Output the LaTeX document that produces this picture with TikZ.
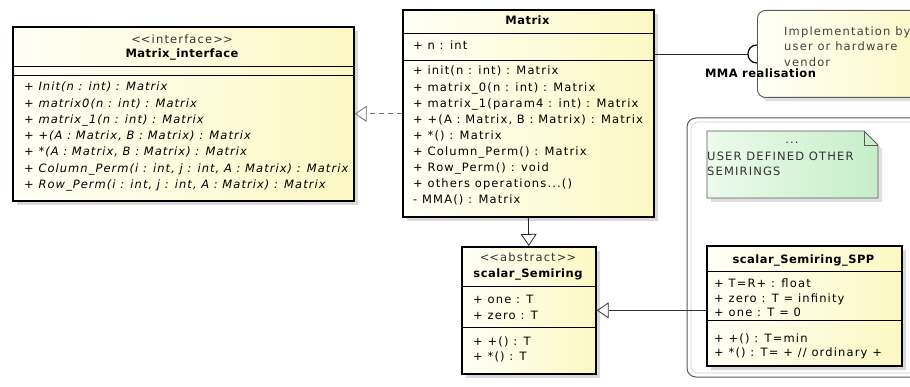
\documentclass[tikz,border=0pt]{standalone}
\usepackage{fontspec}
\setmainfont{DejaVu Sans}[LetterSpace=10,BoldFeatures={LetterSpace=4},ItalicFeatures={LetterSpace=9}]
\usetikzlibrary{shadows,arrows.meta}
\definecolor{ylight}{RGB}{255,255,246}
\definecolor{ydark}{RGB}{252,248,196}
\definecolor{glight}{RGB}{236,250,236}
\definecolor{gdark}{RGB}{198,238,200}
\definecolor{notedraw}{RGB}{90,90,90}
\newcommand{\lt}{<\kern0pt<}
\newcommand{\gt}{>\kern0pt>}
\begin{document}
\begin{tikzpicture}[x=1pt,y=-1pt,
  classbox/.style={draw=black, line width=1.7pt, left color=ylight, right color=ydark,
    inner sep=0pt, anchor=north west,
    drop shadow={shadow xshift=4pt, shadow yshift=-4pt, fill=black!15, opacity=1}},
  notebox/.style={draw=notedraw, line width=0.9pt, rounded corners=8pt, left color=ylight, right color=ydark,
    inner sep=0pt, anchor=north west,
    drop shadow={shadow xshift=4pt, shadow yshift=-4pt, fill=black!12, opacity=1}},
  sep/.style={draw=black, line width=0.8pt},
  txt/.style={anchor=west, inner sep=0pt, text height=7.8pt, text depth=2pt, font=\fontsize{11.5}{13}\selectfont},
  itxt/.style={txt, font=\fontsize{11.5}{13}\selectfont\itshape},
  ctxt/.style={txt, anchor=center},
  btxt/.style={txt, anchor=center, font=\fontsize{11.5}{13}\selectfont\bfseries},
  realize/.style={-{Triangle[open, length=12pt, width=16pt]}, line width=0.8pt},
]
\useasboundingbox (0,0) rectangle (910,387);

% ---------- container for user semirings ----------
\draw[draw=notedraw, line width=1pt, rounded corners=9pt, fill=white] (687,118) rectangle (930,377);
\draw[draw=black!18, line width=0.8pt, rounded corners=7pt] (691,122) rectangle (930,373);

% ---------- implementation note ----------
\node[notebox, minimum width=180pt, minimum height=87pt] (impl) at (757,10) {};
\node[txt, text=black!75] (impl1) at (784,33) {Implementation by};
\node[txt, text=black!75] (impl2) at (784,48) {user or hardware};
\node[txt, text=black!75] (impl3) at (784,64) {vendor};

% ---------- green note ----------
\path[draw=notedraw, line width=0.8pt, left color=glight, right color=gdark,
  drop shadow={shadow xshift=4pt, shadow yshift=-4pt, fill=black!12, opacity=1}]
  (707,131) -- (864,131) -- (878,145) -- (878,198) -- (707,198) -- cycle;
\draw[draw=notedraw, line width=0.8pt] (864,131) -- (864,145) -- (878,145);
\node[ctxt, text=black!80] (gn0) at (792,141) {...};
\node[txt, text=black!80] (gn1) at (707,158) {USER DEFINED OTHER};
\node[txt, text=black!80] (gn2) at (707,173) {SEMIRINGS};

% ---------- Matrix_interface ----------
\node[classbox, minimum width=341pt, minimum height=174pt] (mi) at (12,26) {};
\node[ctxt, text=black!80] (mist) at (182,41) {\lt interface\gt};
\node[btxt] (mitt) at (182,55) {Matrix\_interface};
\draw[sep] (mi.west |- 0,66) -- (mi.east |- 0,66);
\draw[sep] (mi.west |- 0,75) -- (mi.east |- 0,75);
\node[itxt] (mi1) at (24,88)  {+ Init(n : int) : Matrix};
\node[itxt] (mi2) at (24,104.5) {+ matrix0(n : int) : Matrix};
\node[itxt] (mi3) at (24,120.5) {+ matrix\_1(n : int) : Matrix};
\node[itxt] (mi4) at (24,137) {+ +(A : Matrix, B : Matrix) : Matrix};
\node[itxt] (mi5) at (24,153) {+ *(A : Matrix, B : Matrix) : Matrix};
\node[itxt] (mi6) at (24,169.5) {+ Column\_Perm(i : int, j : int, A : Matrix) : Matrix};
\node[itxt] (mi7) at (24,185.5) {+ Row\_Perm(i : int, j : int, A : Matrix) : Matrix};

% ---------- Matrix ----------
\node[classbox, minimum width=251pt, minimum height=207pt] (mat) at (402,9) {};
\node[btxt] (matt) at (527.5,22) {Matrix};
\draw[sep] (mat.west |- 0,33) -- (mat.east |- 0,33);
\node[txt] (ma1) at (413,47) {+ n : int};
\draw[sep] (mat.west |- 0,60) -- (mat.east |- 0,60);
\node[txt] (mm1) at (413,72)  {+ init(n : int) : Matrix};
\node[txt] (mm2) at (413,88.5) {+ matrix\_0(n : int) : Matrix};
\node[txt] (mm3) at (413,104.5) {+ matrix\_1(param4 : int) : Matrix};
\node[txt] (mm4) at (413,120.5) {+ +(A : Matrix, B : Matrix) : Matrix};
\node[txt] (mm5) at (413,136.5) {+ *() : Matrix};
\node[txt] (mm6) at (413,152.5) {+ Column\_Perm() : Matrix};
\node[txt] (mm7) at (413,168.5) {+ Row\_Perm() : void};
\node[txt] (mm8) at (413,184.5) {+ others operations...()};
\node[txt] (mm9) at (413,200.5) {- MMA() : Matrix};

% ---------- scalar_Semiring ----------
\node[classbox, minimum width=134pt, minimum height=127pt] (ss) at (461,246) {};
\node[ctxt, text=black!80] (ssst) at (528,259) {\lt abstract\gt};
\node[btxt] (sstt) at (528,275) {scalar\_Semiring};
\draw[sep] (ss.west |- 0,286) -- (ss.east |- 0,286);
\node[txt] (ssa1) at (473,301) {+ one : T};
\node[txt] (ssa2) at (473,316.5) {+ zero : T};
\draw[sep] (ss.west |- 0,327) -- (ss.east |- 0,327);
\node[txt] (ssm1) at (473,342.5) {+ +() : T};
\node[txt] (ssm2) at (473,357.5) {+ *() : T};

% ---------- scalar_Semiring_SPP ----------
\node[classbox, minimum width=195pt, minimum height=120pt] (spp) at (706,245) {};
\node[btxt] (spptt) at (803.5,261) {scalar\_Semiring\_SPP};
\draw[sep] (spp.west |- 0,271) -- (spp.east |- 0,271);
\node[txt] (sppa1) at (714,284.5) {+ T=R+ : float};
\node[txt] (sppa2) at (714,299.5) {+ zero : T = infinity};
\node[txt] (sppa3) at (714,314) {+ one : T = 0};
\draw[sep] (spp.west |- 0,320) -- (spp.east |- 0,320);
\node[txt] (sppm1) at (714,339.5) {+ +() : T=min};
\node[txt] (sppm2) at (714,354) {+ *() : T= + // ordinary +};

% ---------- connectors ----------
\draw[realize, draw=black!55, dashed, dash pattern=on 5pt off 4pt] (mat.west |- mi.east) -- (mi.east);
\draw[realize, draw=black!85] (mat.south) -- (ss.north);
\draw[realize, draw=black!80] (spp.west |- ss.east) -- (ss.east);

% MMA realisation (required interface socket)
\coordinate (sock) at (748,54);
\draw[line width=0.8pt, draw=black!85] (mat.east |- sock) -- (sock);
\draw[line width=1.2pt] (757,45) .. controls (745,45) and (745,63) .. (757,63);
\node[btxt] (mmalbl) at (760.5,75) {MMA realisation};
\end{tikzpicture}
\end{document}
